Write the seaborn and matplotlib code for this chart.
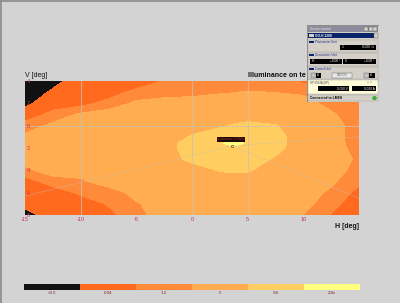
import numpy as np
import matplotlib
matplotlib.use("Agg")
import matplotlib.pyplot as plt
from matplotlib.colors import ListedColormap
from matplotlib.patches import Rectangle, Circle
import seaborn as sns

sns.set_theme(style="white")
plt.rcParams['font.family'] = ['Liberation Sans', 'DejaVu Sans']

# ---------------- data ----------------
h_deg = [-15, -12.5, -10, -7.5, -5, -2.5, 0, 2.5, 3.75, 5, 7.5, 10, 12.5, 15]
v_deg = [4, 3, 2, 1, 0, -1, -1.6, -2, -3, -4, -5, -6, -7, -8]
# illuminance class value per grid node (class k = k-th colour band)
row_v4 = [-0.4, 0.6, 1.6, 1.5, 1.08, 2.08, 2.5, 2.5, 2.5, 2.5, 2.6, 1.8, 1.5, 1.4]
row_v3 = [0.2, 1.2, 1.5, 1.4, 2.4, 2.5, 2.67, 2.91, 2.97, 3.06, 2.98, 2.8, 2.3, 1.4]
row_v2 = [0.8, 1.5, 1.6, 2.4, 3.2, 3.5, 3.5, 3.5, 3.5, 3.5, 3.5, 3.5, 2.6, 2.1]
row_v1 = [1.4, 2.3, 3.2, 3.5, 3.5, 3.5, 3.5, 3.5, 3.5, 3.5, 3.5, 3.5, 3.2, 2.2]
row_v0 = [2.4, 3.28, 3.5, 3.5, 3.5, 3.5, 3.5, 3.88, 4.09, 4.27, 4.05, 3.5, 3.45, 2.5]
row_vm1 = [3.26, 3.5, 3.5, 3.5, 3.5, 3.3, 4.11, 4.6, 4.75, 4.6, 4.4, 3.4, 3.48, 2.48]
row_vm16 = [3.5, 3.5, 3.5, 3.5, 3.5, 3.56, 4.5, 4.85, 5.4, 4.85, 4.4, 3.4, 3.5, 2.5]
row_vm2 = [3.5, 3.5, 3.5, 3.5, 3.5, 3.52, 4.52, 4.7, 4.75, 4.7, 4.32, 3.4, 3.5, 2.6]
row_vm3 = [3.55, 3.5, 3.5, 3.5, 3.5, 3.4, 4.32, 4.5, 4.55, 4.5, 3.88, 3.5, 3.5, 2.84]
row_vm4 = [2.7, 3.56, 3.5, 3.5, 3.5, 3.5, 3.4, 4.07, 4.125, 4.12, 3.4, 3.5, 3.5, 2.6]
row_vm5 = [1.52, 2.5, 2.8, 3.6, 3.5, 3.5, 3.5, 3.5, 3.5, 3.5, 3.5, 3.5, 3.2, 2.2]
row_vm6 = [1.4, 1.4, 2.2, 2.4, 3.4, 3.5, 3.5, 3.5, 3.5, 3.5, 3.5, 3.5, 2.8, 1.68]
row_vm7 = [1.3, 1.5, 1.4, 2.1, 2.9, 3.5, 3.5, 3.5, 3.5, 3.5, 3.5, 3.4, 2.35, 1.32]
row_vm8 = [0.6, 1.5, 1.5, 1.7, 2.6, 3.6, 3.5, 3.5, 3.5, 3.5, 3.5, 2.98, 1.92, 1.4]

band_labels = ["<0.5", "0.94", "1.2", "5", "9.6", "20lx"]
band_colors = ["#111111", "#ff6a1e", "#ff8b3a", "#ffad50", "#ffcd60", "#ffff80"]
class_levels = [-1, 1, 2, 3, 4, 5, 7]

meas_h = [3.6]
meas_v = [-1.8]
x_ticks = [-15, -10, -5, 0, 5, 10]
y_ticks = [4, 2, 0, -2, -4, -6, -8]

Z = np.array([row_v4, row_v3, row_v2, row_v1, row_v0, row_vm1, row_vm16,
              row_vm2, row_vm3, row_vm4, row_vm5, row_vm6, row_vm7, row_vm8])

BG = "#d3d3d3"
TICK_C = "#c8324e"

fig = plt.figure(figsize=(4.0, 3.03), dpi=100, facecolor=BG)

# frame lines of the window
fig.add_artist(plt.Line2D([0.002, 0.002], [0, 1], color="#8a8a8a", lw=1.2))
fig.add_artist(plt.Line2D([0, 1], [0.998, 0.998], color="#8a8a8a", lw=1.2))

W, H = 400.0, 303.0
def fx(px): return px / W
def fy(py): return 1 - py / H

# ---------------- main contour ----------------
ax = fig.add_axes([fx(25), fy(215), fx(359) - fx(25), fy(81) - fy(215)])
ax.set_axisbelow(False)
ax.contourf(h_deg, v_deg, Z, levels=class_levels, colors=band_colors)
ax.set_xlim(-15, 15)
ax.set_ylim(-8, 4)
for hv in [-10, 0, 5]:
    ax.axvline(hv, color="#c9c0b4", lw=0.6, alpha=0.9)
ax.axhline(0, color="#c9c0b4", lw=0.6, alpha=0.9)
# faint radial grid lines through the measurement point
for (h2, v2) in [(15, -6.5), (15, -1.0), (-15, -6.3)]:
    ax.plot([meas_h[0], h2], [meas_v[0], v2], color="#c9c0b4", lw=0.5, alpha=0.5)
ax.plot(meas_h, meas_v, marker="o", ms=1.6, mfc="none", mec="#7a4a20", mew=0.5, ls="none")
ax.text(2.25, -1.2, "Illuminance: 0.000 lx", fontsize=2.2, color="#b03020",
        va="center", ha="left",
        bbox=dict(boxstyle="square,pad=0.15", fc="#1a0a0a", ec="none"))

for s in ax.spines.values():
    s.set_visible(False)
ax.set_xticks(x_ticks)
ax.set_xticklabels([str(t) for t in x_ticks])
ax.set_yticks(y_ticks)
ax.set_yticklabels([str(abs(t)) for t in y_ticks])
ax.tick_params(axis="both", length=0, labelsize=4, labelcolor=TICK_C)
ax.tick_params(axis="x", pad=1.2)
ax.tick_params(axis="y", pad=-3.5, labelsize=4.0)

fig.text(fx(25), fy(79), "V [deg]", fontsize=5, color="#111111", ha="left", va="bottom")
fig.text(fx(359), fy(226), "H [deg]", fontsize=5, color="#111111", ha="right",
         va="center", fontweight="bold")
fig.text(fx(306), fy(79), "Illuminance on te", fontsize=5, color="#111111",
         ha="right", va="bottom", fontweight="bold")

# ---------------- colour legend strip ----------------
cax = fig.add_axes([fx(24), fy(290), fx(360) - fx(24), fy(284) - fy(290)])
sns.heatmap(np.array([list(range(len(band_colors)))]), cmap=ListedColormap(band_colors),
            cbar=False, ax=cax, xticklabels=band_labels, yticklabels=False,
            vmin=-0.5, vmax=len(band_colors) - 0.5)
cax.tick_params(axis="x", length=0, labelsize=3.2, labelcolor="#8a2020", pad=1.0, rotation=0)

# ---------------- device control window (overlay) ----------------
wax = fig.add_axes([fx(307), fy(102), fx(379) - fx(307), fy(25) - fy(102)])
wax.set_xlim(0, 72)
wax.set_ylim(77, 0)
wax.axis("off")
def rect(x, y, w, h, fc, ec="none", lw=0.4):
    wax.add_patch(Rectangle((x, y), w, h, fc=fc, ec=ec, lw=lw))
def txt(x, y, s, size=2.3, c="#000000", **kw):
    wax.text(x, y, s, fontsize=size, color=c, va="center", **kw)

rect(0, 0, 72, 77, "#d4d0c8", ec="#808080", lw=0.6)
rect(0.8, 0.8, 70.4, 6.2, "#8c8c9c")
txt(3, 3.9, "Device control", c="#e8e8e8")
for i, xx in enumerate([57, 61.5, 66]):
    rect(xx, 1.6, 4, 4.4, "#d4d0c8", ec="#606060", lw=0.3)
rect(1.2, 8, 66, 5.2, "#0a246a")
rect(66.8, 8, 4, 5.2, "#d4d0c8", ec="#606060", lw=0.3)
rect(2, 9, 5, 3, "#d4d0c8")
txt(8, 10.6, "GO-H 1200", c="#ffffff", size=2.3, fontweight="bold")
# photometer
rect(1.2, 14.5, 69.5, 12, "#d4d0c8", ec="#a0a0a0", lw=0.3)
rect(2, 15.5, 5, 2.6, "#0a246a")
txt(8, 16.8, "Photometer Unit", c="#1a2a8a", size=2.1)
rect(33, 20, 36, 5, "#000000")
txt(35, 22.5, "1", c="#ffffff", size=2.3)
txt(67, 22.5, "0.000  lx", c="#ffffff", size=2.3, ha="right")
# goniometer
rect(1.2, 27.5, 69.5, 13, "#d4d0c8", ec="#a0a0a0", lw=0.3)
rect(2, 28.5, 5, 2.6, "#0a246a")
txt(8, 29.8, "Goniometer Unit", c="#1a2a8a", size=2.1)
rect(3, 33.5, 32, 5, "#000000")
rect(36, 33.5, 33, 5, "#000000")
txt(4.5, 36, "H", c="#ffffff", size=2.3)
txt(33, 36, "+0.00 °", c="#ffffff", size=2.3, ha="right")
txt(38, 36, "V", c="#ffffff", size=2.3)
txt(67, 36, "+0.00 °", c="#ffffff", size=2.3, ha="right")
# control unit
rect(1.2, 41.5, 69.5, 12.5, "#d4d0c8", ec="#a0a0a0", lw=0.3)
rect(2, 42.5, 5, 2.6, "#0a246a")
txt(8, 43.8, "Control Unit", c="#1a2a8a", size=2.1)
rect(4, 47.5, 5, 5, "#c0c0c0", ec="#606060", lw=0.3)
rect(9, 47.5, 5, 5, "#000000")
txt(10, 50, "x0", c="#ffffff", size=2.0)
rect(25, 47.5, 20, 5, "#e8e8e8", ec="#606060", lw=0.3)
txt(35, 50, "OOOOO", c="#404040", size=2.0, ha="center")
rect(57, 47.5, 5, 5, "#c0c0c0", ec="#606060", lw=0.3)
rect(62, 47.5, 6, 5, "#000000")
txt(63, 50, "x0", c="#ffffff", size=2.0)
# power supply
rect(1.2, 55, 69.5, 14, "#fffbd8", ec="#a0a0a0", lw=0.3)
txt(3, 57.5, "HP 6034A (HP)", c="#404040", size=2.0)
txt(60, 57.5, "◇ ◇", c="#404040", size=2.0)
rect(11, 61, 31, 5, "#000000")
rect(45, 61, 24, 5, "#000000")
txt(40.5, 63.5, "0.000 V", c="#ffffff", size=2.3, ha="right")
txt(67.5, 63.5, "0.000 A", c="#ffffff", size=2.3, ha="right")
# status bar
rect(1.2, 70, 69.5, 6.2, "#d4d0c8", ec="#a0a0a0", lw=0.3)
txt(3, 73.1, "Connected to LMES", c="#000000", size=2.4, fontweight="bold")
wax.add_patch(Circle((67.5, 73.1), 1.8, fc="#30c030", ec="#208020", lw=0.3))

fig.savefig("out.png", dpi=100, facecolor=BG)
